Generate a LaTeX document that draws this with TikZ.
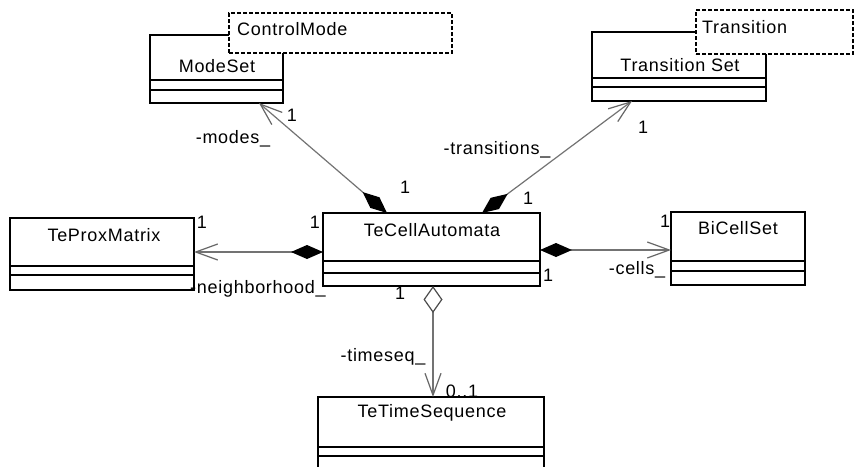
\documentclass[tikz,border=0pt]{standalone}
\usepackage{fontspec}
\setmainfont{Liberation Sans}[LetterSpace=4]
\usetikzlibrary{arrows.meta}
\begin{document}
\begin{tikzpicture}[x=1pt,y=-1pt,
  every node/.style={font=\fontsize{18}{21}\selectfont},
  classbox/.style={draw, line width=1.3pt, fill=white, inner sep=0pt, outer sep=0pt, anchor=north west},
  notebox/.style={draw, dash pattern=on 4pt off 2pt, line width=1.3pt, fill=white, inner sep=0pt, outer sep=0pt, anchor=north west},
  txt/.style={inner sep=0pt},
  sepline/.style={line width=1.3pt},
  conn/.style={draw=black!55, line width=1.2pt},
  comp/.style={conn, {Diamond[color=black,fill=black,length=32pt,width=14pt]}-{Straight Barb[color=black!60,length=22pt,width=16pt]}},
  aggr/.style={conn, {Diamond[color=black!70,fill=white,length=27pt,width=19pt]}-{Straight Barb[color=black!60,length=22pt,width=16pt]}},
]
\clip (0,0) rectangle (856,466);
\fill[white] (0,0) rectangle (856,466);

% ModeSet + ControlMode
\node[classbox, minimum width=133pt, minimum height=68pt] (ms) at (150,35) {};
\draw[sepline] (150,80) -- (283,80) (150,90) -- (283,90);
\node[txt] (msn) at (217,66) {ModeSet};
\node[notebox, minimum width=223pt, minimum height=40pt] (cm) at (229,13) {};
\node[txt, anchor=west] (cmn) at (237,29) {ControlMode};

% TransitionSet + Transition
\node[classbox, minimum width=174pt, minimum height=69pt] (ts) at (592,32) {};
\draw[sepline] (592,78) -- (766,78) (592,87) -- (766,87);
\node[txt] (tsn) at (680,65) {Transition Set};
\node[notebox, minimum width=157pt, minimum height=44pt] (tr) at (696,10) {};
\node[txt, anchor=west] (trn) at (702,27) {Transition};

% TeProxMatrix
\node[classbox, minimum width=184pt, minimum height=72pt] (pm) at (10,218) {};
\draw[sepline] (10,266) -- (194,266) (10,275) -- (194,275);
\node[txt] (pmn) at (104,235) {TeProxMatrix};

% TeCellAutomata
\node[classbox, minimum width=217pt, minimum height=73pt] (ca) at (323,213) {};
\draw[sepline] (323,261) -- (540,261) (323,273) -- (540,273);
\node[txt] (can) at (432,230) {TeCellAutomata};

% BiCellSet
\node[classbox, minimum width=134pt, minimum height=73pt] (bc) at (671,212) {};
\draw[sepline] (671,261) -- (805,261) (671,271) -- (805,271);
\node[txt] (bcn) at (738,228) {BiCellSet};

% TeTimeSequence
\node[classbox, minimum width=226pt, minimum height=90pt] (tt) at (318,397) {};
\draw[sepline] (318,447) -- (544,447) (318,456) -- (544,456);
\node[txt] (ttn) at (432,413) {TeTimeSequence};

% connector end points
\coordinate (caM) at ([xshift=64pt]ca.north west);
\coordinate (msM) at ([xshift=109pt]ms.south west);
\coordinate (caT) at ([xshift=159pt]ca.north west);
\coordinate (tsT) at ([xshift=40pt]ts.south west);
\coordinate (caN) at ([yshift=-39pt]ca.north west);
\coordinate (pmN) at ([yshift=-34pt]pm.north east);
\coordinate (caC) at ([yshift=-37pt]ca.north east);
\coordinate (bcC) at ([yshift=-38pt]bc.north west);
\coordinate (caS) at ([xshift=110pt]ca.south west);
\coordinate (ttS) at (caS |- tt.north);

% connectors
\draw[comp] (caM) -- (msM);
\draw[comp] (caT) -- (tsT);
\draw[comp] (caN) -- (pmN);
\draw[comp] (caC) -- (bcC);
\draw[aggr] (caS) -- (ttS);

% labels
\node[txt] (l1) at (292,115) {1};
\node[txt] (l2) at (233,139) {-modes\_};
\node[txt] (l3) at (405,187) {1};
\node[txt] (l4) at (497,150) {-transitions\_};
\node[txt] (l5) at (528,198) {1};
\node[txt] (l6) at (643,127) {1};
\node[txt] (l7) at (202,222) {1};
\node[txt] (l8) at (315,222) {1};
\node[txt, anchor=west] (l9) at (190,289) {-neighborhood\_};
\node[txt] (l10) at (548,275) {1};
\node[txt] (l11) at (665,221) {1};
\node[txt] (l12) at (637,270) {-cells\_};
\node[txt] (l13) at (400,293) {1};
\node[txt] (l14) at (383,357) {-timeseq\_};
\node[txt] (l15) at (462,391) {0..1};
\end{tikzpicture}
\end{document}
